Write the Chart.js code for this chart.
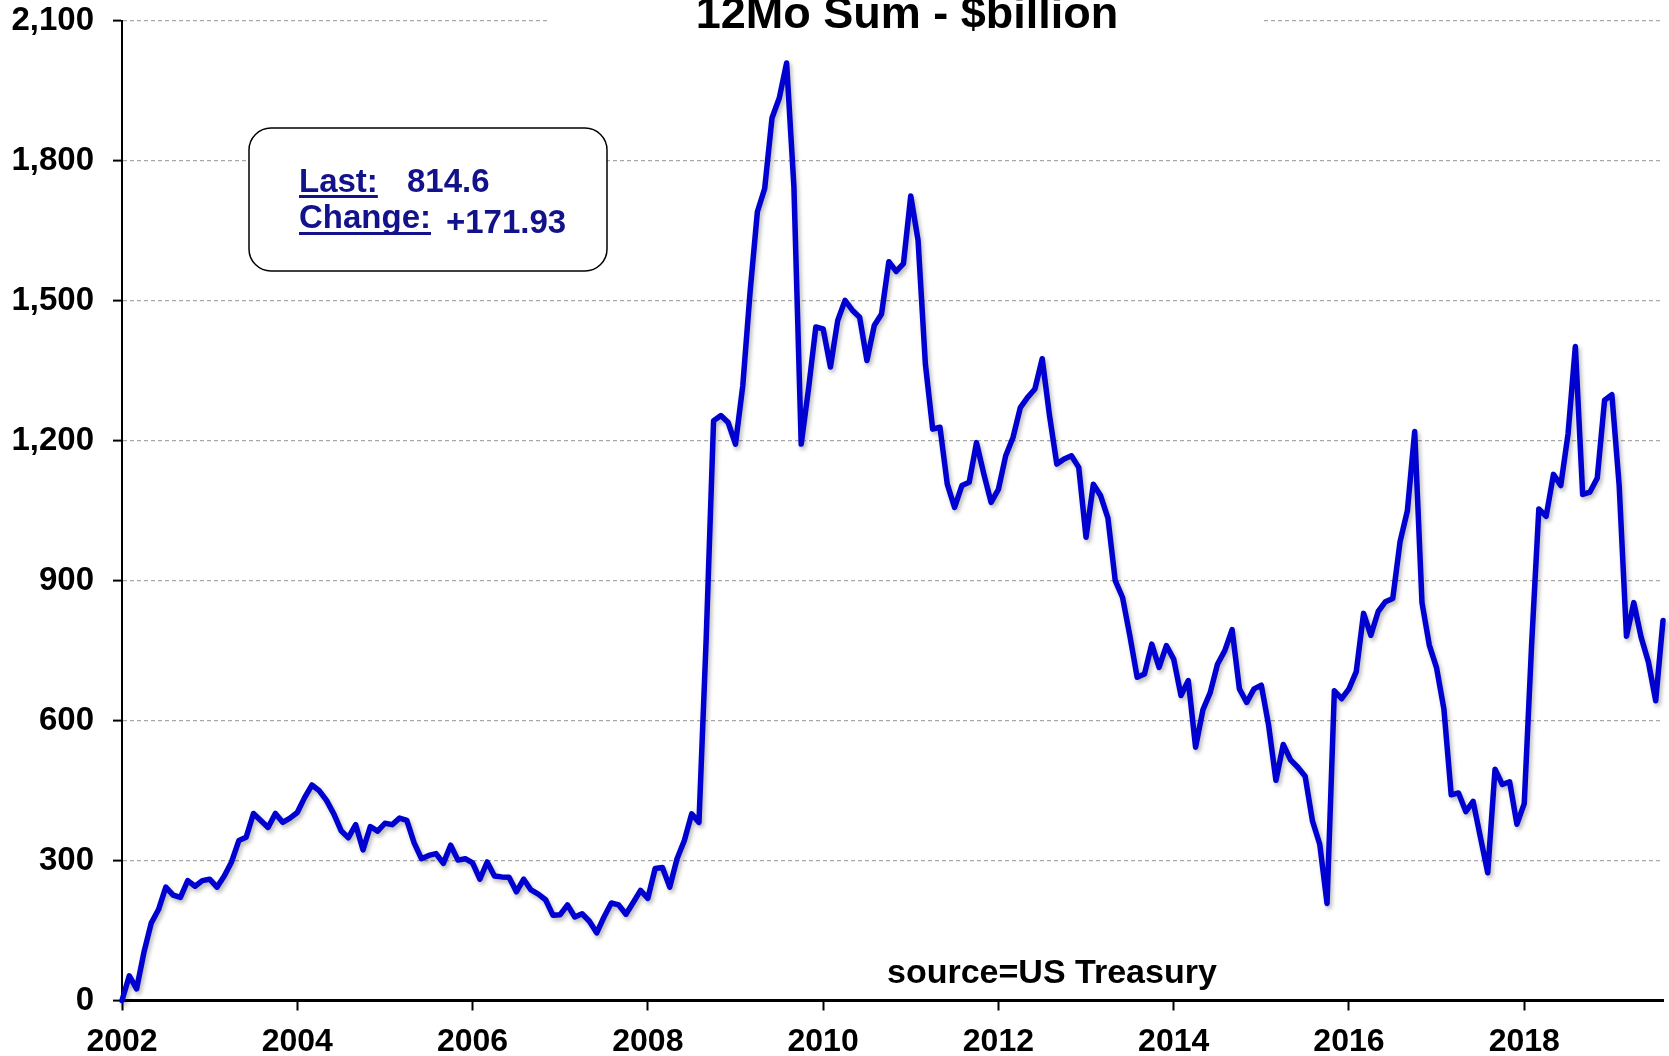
<!DOCTYPE html>
<html>
<head>
<meta charset="utf-8">
<script src="https://cdn.jsdelivr.net/npm/chart.js@4/dist/chart.umd.min.js"></script>
<style>
  html, body { margin: 0; padding: 0; background: #fff; }
  #wrap { width: 1669px; height: 1056px; }
</style>
</head>
<body>
<div id="wrap"><canvas id="chart" width="1669" height="1056"></canvas></div>
<script>
// 12 month sum, $billion, monthly from Jan 2002
const y2002 = [0, 53, 25, 103, 166, 195, 243, 226, 221, 257, 245, 257];
const y2003 = [260, 243, 267, 297, 343, 350, 401, 386, 371, 401, 382, 391];
const y2004 = [403, 435, 462, 450, 429, 400, 364, 349, 377, 323, 373, 363];
const y2005 = [380, 377, 391, 386, 338, 304, 311, 315, 294, 333, 301, 304];
const y2006 = [295, 260, 297, 267, 265, 264, 233, 260, 237, 228, 216, 183];
const y2007 = [184, 205, 179, 186, 170, 145, 179, 209, 205, 185, 210, 236];
const y2008 = [219, 283, 285, 243, 304, 343, 400, 382, 780, 1243, 1254, 1239];
const y2009 = [1193, 1318, 1519, 1691, 1741, 1892, 1935, 2010, 1745, 1193, 1311, 1444];
const y2010 = [1440, 1358, 1458, 1501, 1480, 1465, 1372, 1447, 1472, 1584, 1563, 1580];
const y2011 = [1725, 1630, 1365, 1225, 1229, 1107, 1057, 1104, 1111, 1196, 1129, 1068];
const y2012 = [1096, 1168, 1207, 1271, 1293, 1311, 1376, 1254, 1150, 1161, 1168, 1143];
const y2013 = [993, 1107, 1082, 1034, 900, 864, 782, 693, 700, 764, 714, 761];
const y2014 = [732, 654, 686, 543, 623, 660, 721, 750, 795, 668, 639, 668];
const y2015 = [676, 590, 472, 549, 516, 500, 481, 385, 335, 208, 664, 647];
const y2016 = [668, 705, 830, 783, 834, 855, 862, 984, 1050, 1220, 853, 762];
const y2017 = [713, 625, 441, 445, 405, 427, 350, 274, 496, 463, 469, 378];
const y2018 = [422, 760, 1054, 1038, 1128, 1104, 1215, 1402, 1085, 1090, 1120, 1287];
const y2019 = [1299, 1104, 781, 853, 779, 726, 642.67, 814.6];

const years = [2002, 2003, 2004, 2005, 2006, 2007, 2008, 2009, 2010,
               2011, 2012, 2013, 2014, 2015, 2016, 2017, 2018, 2019];
const yearValues = [y2002, y2003, y2004, y2005, y2006, y2007, y2008, y2009, y2010,
                    y2011, y2012, y2013, y2014, y2015, y2016, y2017, y2018, y2019];
const xTickYears = [2002, 2004, 2006, 2008, 2010, 2012, 2014, 2016, 2018];
const yTickValues = [0, 300, 600, 900, 1200, 1500, 1800, 2100];

const titleText = '12Mo Sum - $billion';
const sourceText = 'source=US Treasury';
const lastValue = '814.6';
const changeValue = '+171.93';

const FONT = '"Liberation Sans", Arial, sans-serif';

// build x/y points, x = fractional year
const points = [];
years.forEach((yr, i) => {
    yearValues[i].forEach((v, m) => points.push({ x: yr + m / 12, y: v }));
});
const lastX = points[points.length - 1].x;

// soft shadow under the line, like the excel chart
const shadowPlugin = {
    id: 'lineShadow',
    beforeDatasetDraw(chart) {
        const ctx = chart.ctx;
        ctx.save();
        ctx.shadowColor = 'rgba(0,0,0,0.28)';
        ctx.shadowBlur = 4;
        ctx.shadowOffsetX = 2;
        ctx.shadowOffsetY = 3;
    },
    afterDatasetDraw(chart) {
        chart.ctx.restore();
    }
};

// title, info box and source note
const decorPlugin = {
    id: 'decor',
    afterDraw(chart) {
        const ctx = chart.ctx;
        ctx.save();

        // title with white background over the top gridline
        ctx.fillStyle = '#ffffff';
        ctx.fillRect(550, 0, 713, 38);
        ctx.fillStyle = '#000000';
        ctx.font = 'bold 45px ' + FONT;
        ctx.textAlign = 'center';
        ctx.textBaseline = 'alphabetic';
        ctx.fillText(titleText, 907, 28);

        // info box
        ctx.beginPath();
        ctx.roundRect(249, 128, 358, 143, 22);
        ctx.fillStyle = '#ffffff';
        ctx.fill();
        ctx.lineWidth = 1.5;
        ctx.strokeStyle = '#000000';
        ctx.stroke();

        ctx.fillStyle = '#12128a';
        ctx.font = 'bold 33px ' + FONT;
        ctx.textAlign = 'left';
        ctx.fillText('Last:', 299, 192);
        let w = ctx.measureText('Last:').width;
        ctx.fillRect(299, 195, w, 3);
        ctx.fillText(lastValue, 407, 192);
        ctx.fillText('Change:', 299, 228);
        w = ctx.measureText('Change:').width;
        ctx.fillRect(299, 232, w, 3);
        ctx.fillText(changeValue, 446, 233);

        // source
        ctx.fillStyle = '#000000';
        ctx.font = 'bold 34px ' + FONT;
        ctx.fillText(sourceText, 887, 983);

        ctx.restore();
    }
};

new Chart(document.getElementById('chart'), {
    type: 'line',
    data: {
        datasets: [{
            data: points,
            borderColor: '#0000d0',
            borderWidth: 5.5,
            borderJoinStyle: 'round',
            borderCapStyle: 'round',
            pointRadius: 0,
            tension: 0,
            fill: false,
            clip: false
        }]
    },
    options: {
        responsive: false,
        animation: false,
        parsing: false,
        layout: { padding: { left: 0, right: 6, top: 21, bottom: 0 } },
        plugins: {
            legend: { display: false },
            title: { display: false },
            tooltip: { enabled: false }
        },
        scales: {
            x: {
                type: 'linear',
                min: 2002,
                max: lastX,
                afterBuildTicks(scale) {
                    scale.ticks = xTickYears.map(v => ({ value: v }));
                },
                afterFit(scale) {
                    scale.height = 55.5;
                    scale.paddingLeft = 0;
                    scale.paddingRight = 0;
                },
                ticks: {
                    autoSkip: false,
                    maxRotation: 0,
                    color: '#000000',
                    padding: 12,
                    font: { family: FONT, size: 32, weight: 'bold' },
                    callback: v => String(v)
                },
                grid: {
                    drawOnChartArea: false,
                    drawTicks: true,
                    tickLength: 10,
                    tickWidth: 2,
                    tickColor: '#000000',
                    tickBorderDash: []
                },
                border: { display: true, color: '#000000', width: 3 }
            },
            y: {
                min: 0,
                max: 2100,
                afterBuildTicks(scale) {
                    scale.ticks = yTickValues.map(v => ({ value: v }));
                },
                afterFit(scale) {
                    scale.width = 122;
                    scale.paddingTop = 0;
                    scale.paddingBottom = 0;
                },
                ticks: {
                    color: '#000000',
                    padding: 19,
                    font: { family: FONT, size: 33, weight: 'bold' },
                    callback: v => v.toLocaleString('en-US')
                },
                grid: {
                    color: ctx => ctx.tick && ctx.tick.value === 0 ? 'rgba(0,0,0,0)' : '#a8a8a8',
                    lineWidth: 1.2,
                    drawTicks: true,
                    tickLength: 9,
                    tickWidth: 2,
                    tickColor: '#000000',
                    tickBorderDash: []
                },
                border: { display: true, color: '#000000', width: 2, dash: [4, 3] }
            }
        }
    },
    plugins: [shadowPlugin, decorPlugin]
});
</script>
</body>
</html>
